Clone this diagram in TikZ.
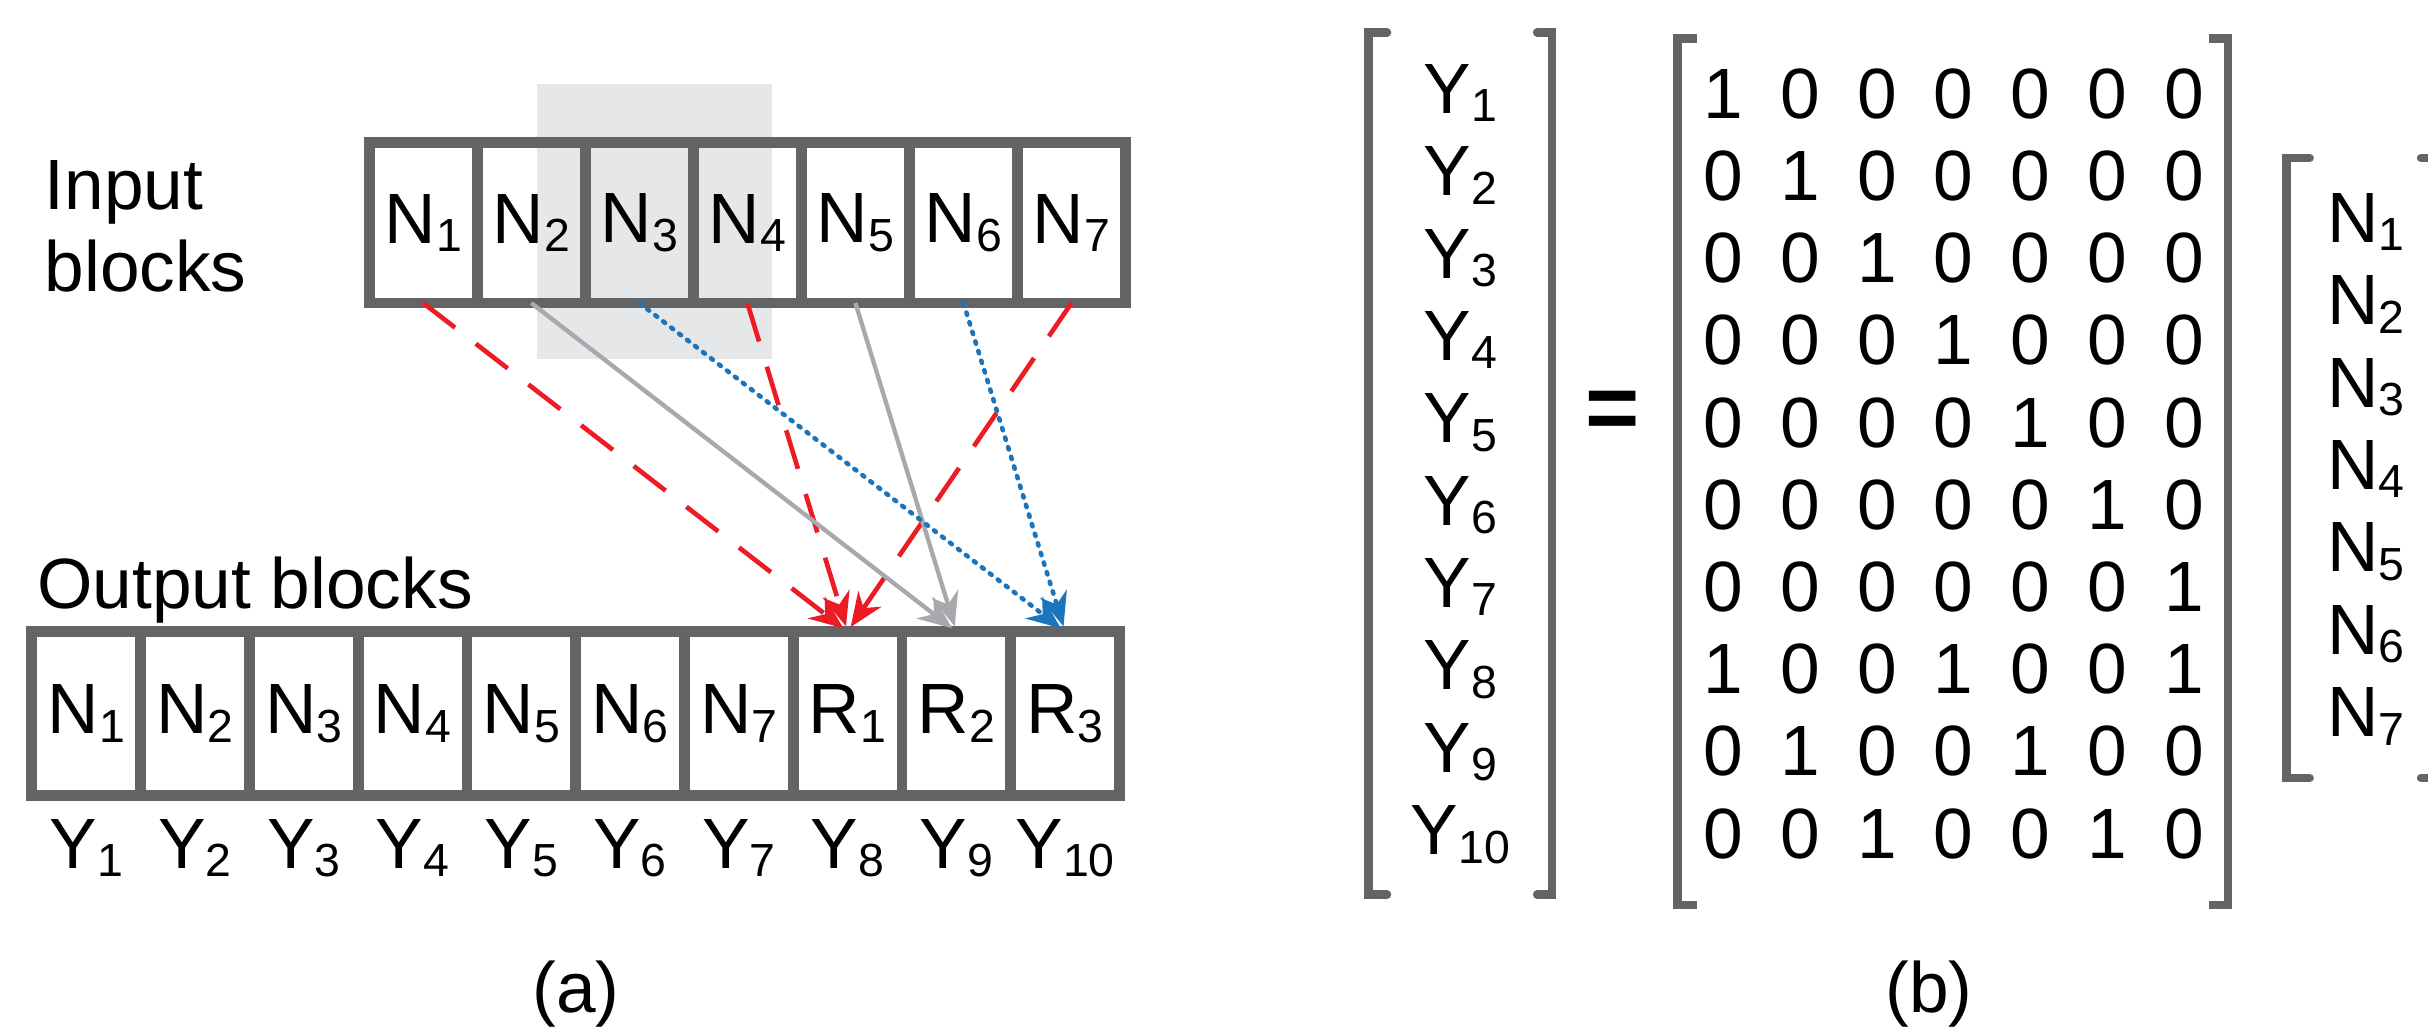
\documentclass[tikz,border=0pt]{standalone}
\usepackage{fontspec}
\setmainfont{Liberation Sans}
\usetikzlibrary{arrows.meta}

\definecolor{framegray}{RGB}{99,100,102}
\definecolor{hilite}{RGB}{230,231,232}
\definecolor{linkred}{RGB}{237,28,36}
\definecolor{linkgray}{RGB}{167,169,172}
\definecolor{linkblue}{RGB}{28,117,188}

\newcommand{\subidx}[1]{\raisebox{-5.5pt}{\fontsize{30}{30}\selectfont #1}}

\tikzset{
  cell/.style={draw=framegray, line width=7pt, minimum width=69.8pt,
    minimum height=103.5pt, inner sep=0pt, outer sep=0pt},
  outcell/.style={cell, minimum width=70.26pt, minimum height=106pt},
  lbl/.style={inner sep=0pt, anchor=base},
  bracket/.style={draw=framegray, line width=5.5pt},
  link/.style={shorten >=3.5pt, -{Stealth[length=22pt,width=18pt]}},
  redlink/.style={link, draw=linkred, line width=3pt, dash pattern=on 26pt off 17pt},
  graylink/.style={link, draw=linkgray, line width=2.8pt},
  bluelink/.style={link, draw=linkblue, line width=3pt, line cap=round, dash pattern=on 1.5pt off 5pt},
}

\begin{document}
\begin{tikzpicture}[x=1pt, y=-1pt, font=\fontsize{46}{52.8}\selectfont]
      \useasboundingbox (0,0) rectangle (1568.5,665.4);
      % (a) blocks
      \fill[hilite] (347,54.3) rectangle (499,232);
      \path
        (273.4,144) node[cell] (in1){N\subidx{1}}
        (343.2,144) node[cell] (in2){N\subidx{2}}
        (413.0,144) node[cell] (in3){N\subidx{3}}
        (482.8,144) node[cell] (in4){N\subidx{4}}
        (552.6,144) node[cell] (in5){N\subidx{5}}
        (622.4,144) node[cell] (in6){N\subidx{6}}
        (692.2,144) node[cell] (in7){N\subidx{7}};
      \node[inner sep=0pt, anchor=west, align=left] (inlabel) at (28.7,146.4) {Input\\blocks};
      \node[lbl, anchor=base west] (outlabel) at (24,393) {Output blocks};
      \path
        (55.73,461) node[outcell] (out1){N\subidx{1}}
        (125.99,461) node[outcell] (out2){N\subidx{2}}
        (196.25,461) node[outcell] (out3){N\subidx{3}}
        (266.51,461) node[outcell] (out4){N\subidx{4}}
        (336.77,461) node[outcell] (out5){N\subidx{5}}
        (407.03,461) node[outcell] (out6){N\subidx{6}}
        (477.29,461) node[outcell] (out7){N\subidx{7}}
        (547.55,461) node[outcell] (r1){R\subidx{1}}
        (617.81,461) node[outcell] (r2){R\subidx{2}}
        (688.07,461) node[outcell] (r3){R\subidx{3}};
      \path
        (55.73,561) node[lbl] (y1){Y\subidx{1}}
        (125.99,561) node[lbl] (y2){Y\subidx{2}}
        (196.25,561) node[lbl] (y3){Y\subidx{3}}
        (266.51,561) node[lbl] (y4){Y\subidx{4}}
        (336.77,561) node[lbl] (y5){Y\subidx{5}}
        (407.03,561) node[lbl] (y6){Y\subidx{6}}
        (477.29,561) node[lbl] (y7){Y\subidx{7}}
        (547.55,561) node[lbl] (y8){Y\subidx{8}}
        (617.81,561) node[lbl] (y9){Y\subidx{9}}
        (688.07,561) node[lbl] (y10){Y\subidx{10}};
      \begin{scope}
        \draw[redlink] (in1.south) to (r1.north);
        \draw[redlink] (in4.south) to (r1.north);
        \draw[redlink] (in7.south) to (r1.north);
        \draw[graylink] (in2.south) to (r2.north);
        \draw[graylink] (in5.south) to (r2.north);
        \draw[bluelink] (in3.south) to (r3.north);
        \draw[bluelink] (in6.south) to (r3.north);
      \end{scope}
      \node[lbl] (capa) at (372,654) {(a)};
      % (b) matrix form
      \foreach \k in {1,...,10}
        \node[lbl] (vy\k) at (943.5,73.2+53.2*\k-53.2) {Y\subidx{\k}};
      \foreach \row [count=\i] in {{1,0,0,0,0,0,0},{0,1,0,0,0,0,0},{0,0,1,0,0,0,0},
          {0,0,0,1,0,0,0},{0,0,0,0,1,0,0},{0,0,0,0,0,1,0},{0,0,0,0,0,0,1},
          {1,0,0,1,0,0,1},{0,1,0,0,1,0,0},{0,0,1,0,0,1,0}}
        \foreach \v [count=\j] in \row
          \node[lbl] (m\i-\j) at (1113.3+49.6*\j-49.6,76.4+53.1*\i-53.1) {\v};
      \foreach \k in {1,...,7}
        \node[lbl] (vn\k) at (1528.5,156.6+53.2*\k-53.2) {N\subidx{\k}};
      \node[font=\fontsize{60}{60}\selectfont\bfseries] (eq) at (1041.5,268.6) {=};
      \draw[bracket, line cap=round] (896,21) -- (884,21) -- (884,578) -- (896,578);
      \draw[bracket, line cap=round] (993,21) -- (1002.5,21) -- (1002.5,578) -- (993,578);
      \draw[bracket] (1096,25) -- (1083.7,25) -- (1083.7,584.6) -- (1096,584.6);
      \draw[bracket] (1427,25) -- (1439.2,25) -- (1439.2,584.6) -- (1427,584.6);
      \draw[bracket, line cap=round] (1492,102) -- (1477,102) -- (1477,502.6) -- (1492,502.6);
      \draw[bracket, line cap=round] (1564,102) -- (1578,102) -- (1578,502.6) -- (1564,502.6);
      \node[lbl] (capb) at (1246,654) {(b)};
    \end{tikzpicture}
\end{document}
